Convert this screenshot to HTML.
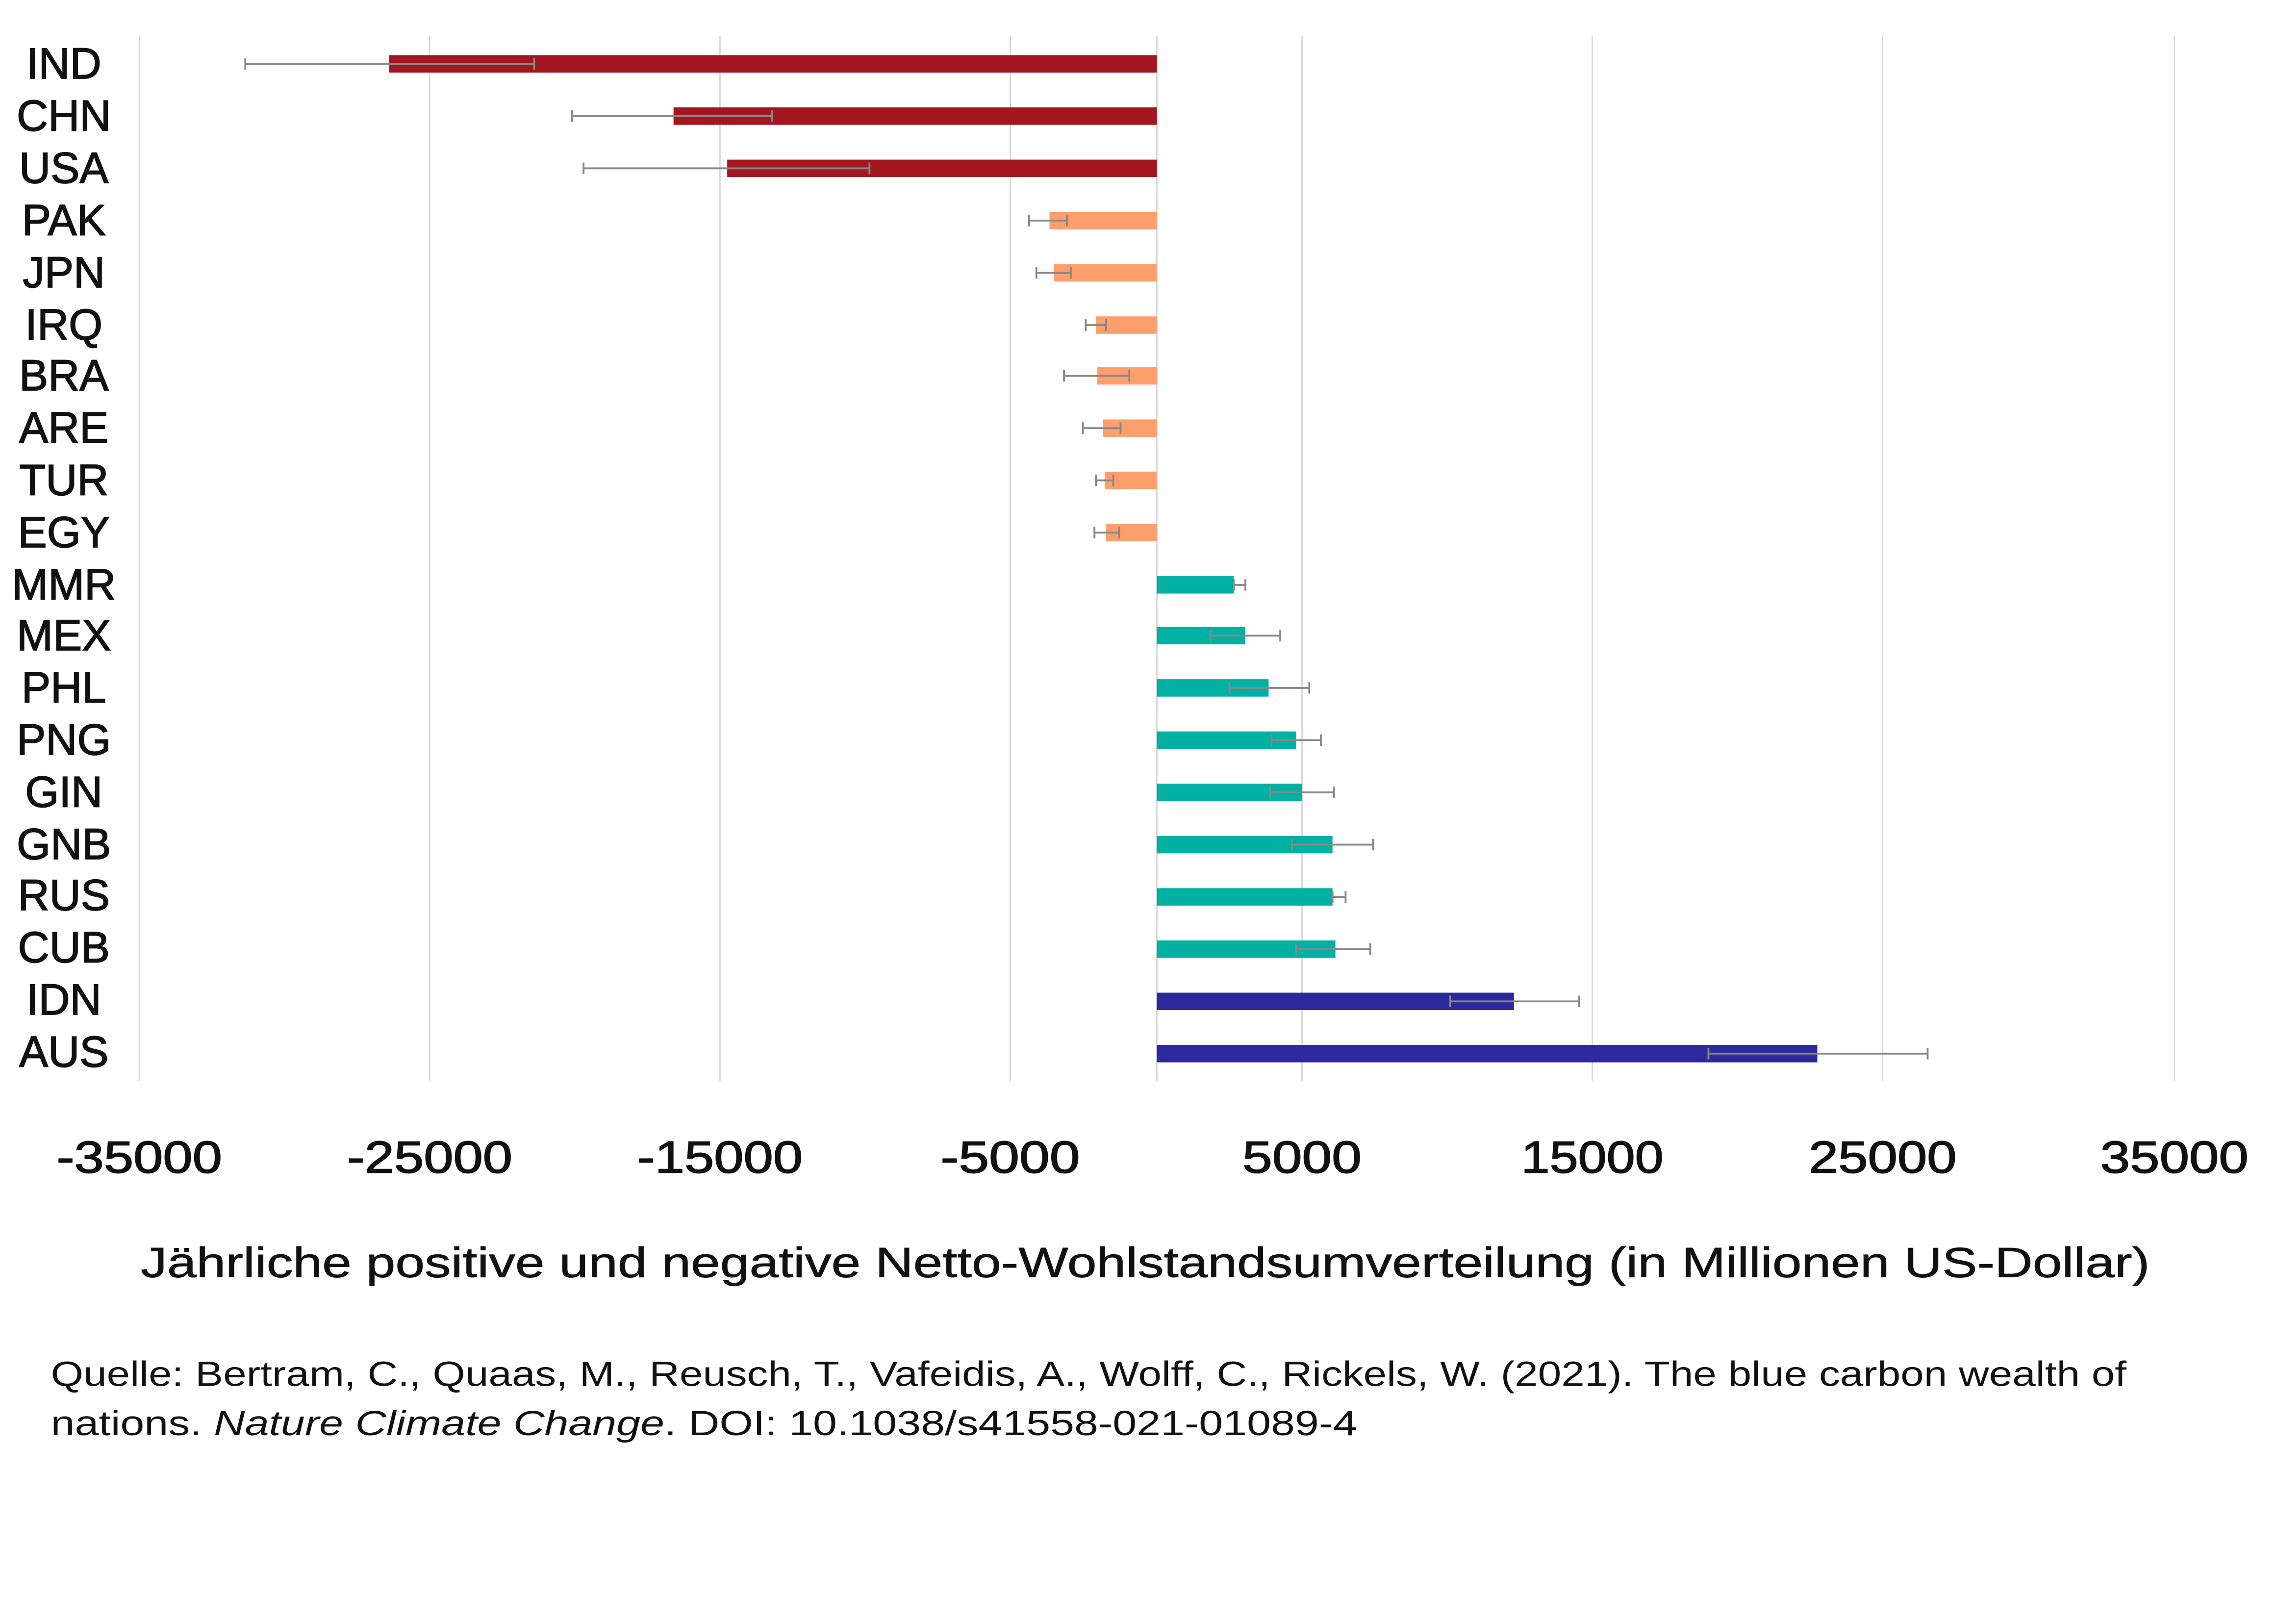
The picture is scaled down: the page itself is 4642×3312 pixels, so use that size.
<!DOCTYPE html>
<html><head><meta charset="utf-8"><style>
html,body{margin:0;padding:0;background:#fff;}
svg{display:block;}
text{font-family:"Liberation Sans",sans-serif;fill:#111;}
</style></head><body>
<svg width="4642" height="3312" viewBox="0 0 1568 1119" preserveAspectRatio="none" xmlns="http://www.w3.org/2000/svg">
<rect width="1568" height="1119" fill="#fff"/>
<g stroke="#d9d9d9" stroke-width="1">
<line x1="96" y1="25" x2="96" y2="745"/><line x1="296" y1="25" x2="296" y2="745"/>
<line x1="496" y1="25" x2="496" y2="745"/><line x1="696" y1="25" x2="696" y2="745"/>
<line x1="897" y1="25" x2="897" y2="745"/><line x1="1097" y1="25" x2="1097" y2="745"/>
<line x1="1297" y1="25" x2="1297" y2="745"/><line x1="1498" y1="25" x2="1498" y2="745"/>
<line x1="797" y1="25" x2="797" y2="745"/>
</g>
<g font-size="31" text-anchor="middle" stroke="#111" stroke-width="0.6">
<text x="96" y="808" textLength="114" lengthAdjust="spacingAndGlyphs">-35000</text><text x="296" y="808" textLength="114" lengthAdjust="spacingAndGlyphs">-25000</text><text x="496" y="808" textLength="114" lengthAdjust="spacingAndGlyphs">-15000</text>
<text x="696" y="808" textLength="96" lengthAdjust="spacingAndGlyphs">-5000</text><text x="897" y="808" textLength="82" lengthAdjust="spacingAndGlyphs">5000</text><text x="1097" y="808" textLength="98" lengthAdjust="spacingAndGlyphs">15000</text>
<text x="1297" y="808" textLength="102" lengthAdjust="spacingAndGlyphs">25000</text><text x="1498" y="808" textLength="102" lengthAdjust="spacingAndGlyphs">35000</text>
</g>
<text x="97" y="880" font-size="29" textLength="1384" lengthAdjust="spacingAndGlyphs" stroke="#111" stroke-width="0.3">Jährliche positive und negative Netto-Wohlstandsumverteilung (in Millionen US-Dollar)</text>
<text x="35" y="955" font-size="24" textLength="1430" lengthAdjust="spacingAndGlyphs">Quelle: Bertram, C., Quaas, M., Reusch, T., Vafeidis, A., Wolff, C., Rickels, W. (2021). The blue carbon wealth of</text>
<text x="35" y="989" font-size="24" textLength="900" lengthAdjust="spacingAndGlyphs">nations. <tspan font-style="italic">Nature Climate Change</tspan>. DOI: 10.1038/s41558-021-01089-4</text>
<g font-size="30" text-anchor="middle" stroke="#111" stroke-width="0.6">
<text x="44" y="54">IND</text><text x="44" y="90">CHN</text><text x="44" y="126">USA</text><text x="44" y="162">PAK</text>
<text x="44" y="198">JPN</text><text x="44" y="234">IRQ</text><text x="44" y="269">BRA</text><text x="44" y="305">ARE</text>
<text x="44" y="341">TUR</text><text x="44" y="377">EGY</text><text x="44" y="413">MMR</text><text x="44" y="448">MEX</text>
<text x="44" y="484">PHL</text><text x="44" y="520">PNG</text><text x="44" y="556">GIN</text><text x="44" y="592">GNB</text>
<text x="44" y="627">RUS</text><text x="44" y="663">CUB</text><text x="44" y="699">IDN</text><text x="44" y="735">AUS</text>
</g>
<g>
<rect x="268" y="38" width="529" height="12" fill="#a3151f"/>
<rect x="464" y="74" width="333" height="12" fill="#a3151f"/>
<rect x="501" y="110" width="296" height="12" fill="#a3151f"/>
<rect x="723" y="146" width="74" height="12" fill="#fd9f6c"/>
<rect x="726" y="182" width="71" height="12" fill="#fd9f6c"/>
<rect x="755" y="218" width="42" height="12" fill="#fd9f6c"/>
<rect x="756" y="253" width="41" height="12" fill="#fd9f6c"/>
<rect x="760" y="289" width="37" height="12" fill="#fd9f6c"/>
<rect x="761" y="325" width="36" height="12" fill="#fd9f6c"/>
<rect x="762" y="361" width="35" height="12" fill="#fd9f6c"/>
<rect x="797" y="397" width="53" height="12" fill="#00b0a2"/>
<rect x="797" y="432" width="61" height="12" fill="#00b0a2"/>
<rect x="797" y="468" width="77" height="12" fill="#00b0a2"/>
<rect x="797" y="504" width="96" height="12" fill="#00b0a2"/>
<rect x="797" y="540" width="100" height="12" fill="#00b0a2"/>
<rect x="797" y="576" width="121" height="12" fill="#00b0a2"/>
<rect x="797" y="612" width="121" height="12" fill="#00b0a2"/>
<rect x="797" y="648" width="123" height="12" fill="#00b0a2"/>
<rect x="797" y="684" width="246" height="12" fill="#2c2a9c"/>
<rect x="797" y="720" width="455" height="12" fill="#2c2a9c"/>
</g>
<g stroke="#888" stroke-width="1.3" fill="none">
<path d="M169 44H368M169 40V48M368 40V48"/>
<path d="M394 80H532M394 76V84M532 76V84"/>
<path d="M402 116H599M402 112V120M599 112V120"/>
<path d="M709 152H735M709 148V156M735 148V156"/>
<path d="M714 188H738M714 184V192M738 184V192"/>
<path d="M748 224H762M748 220V228M762 220V228"/>
<path d="M733 259H778M733 255V263M778 255V263"/>
<path d="M746 295H772M746 291V299M772 291V299"/>
<path d="M755 331H767M755 327V335M767 327V335"/>
<path d="M754 367H771M754 363V371M771 363V371"/>
<path d="M850 403H858M850 399V407M858 399V407"/>
<path d="M834 438H882M834 434V442M882 434V442"/>
<path d="M847 474H902M847 470V478M902 470V478"/>
<path d="M876 510H910M876 506V514M910 506V514"/>
<path d="M875 546H919M875 542V550M919 542V550"/>
<path d="M890 582H946M890 578V586M946 578V586"/>
<path d="M918 618H927M918 614V622M927 614V622"/>
<path d="M893 654H944M893 650V658M944 650V658"/>
<path d="M999 690H1088M999 686V694M1088 686V694"/>
<path d="M1177 726H1328M1177 722V730M1328 722V730"/>
</g>
</svg>
</body></html>
